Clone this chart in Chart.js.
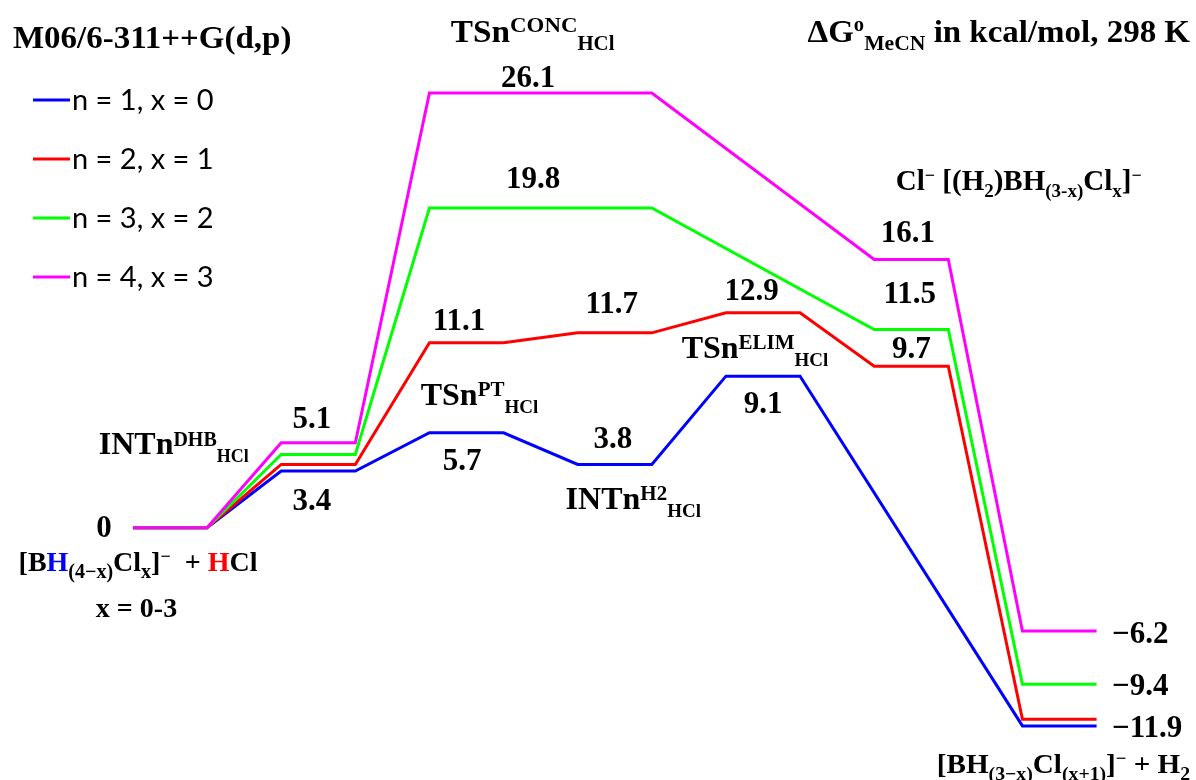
<!DOCTYPE html>
<html><head><meta charset="utf-8">
<script src="https://cdn.jsdelivr.net/npm/chart.js@4/dist/chart.umd.min.js"></script>
<style>html,body{margin:0;padding:0;background:#fff;overflow:hidden}canvas{display:block}</style>
</head><body>
<canvas id="c" width="1196" height="780"></canvas>
<script>
// ---- data (kcal/mol) ----
const states = ['Reactants', 'INTn DHB', 'TSn PT', 'INTn H2', 'TSn ELIM', 'Cl- complex', 'Products'];
const seriesNames = ['n = 1, x = 0', 'n = 2, x = 1', 'n = 3, x = 2', 'n = 4, x = 3'];
const blueValues    = [0, 3.4, 5.7, 3.8, 9.1, null, -11.9];
const redValues     = [0, 3.8, 11.1, 11.7, 12.9, 9.7, -11.5];
const greenValues   = [0, 4.4, 19.2, 19.2, null, 11.9, -9.4];
const magentaValues = [0, 5.1, 26.1, 26.1, null, 16.1, -6.2];
// printed value labels
const blueLabels    = ['0', '3.4', '5.7', '3.8', '9.1', '', '\u221211.9'];
const redLabels     = ['', '', '11.1', '11.7', '12.9', '9.7', ''];
const greenLabels   = ['', '', '19.8', '', '', '11.5', '\u22129.4'];
const magentaLabels = ['', '5.1', '26.1', '', '', '16.1', '\u22126.2'];

// ---- styling / placement ----
const COLORS = ['#0000FF', '#FF0000', '#00FF00', '#FF00FF'];
const SERIF = '"Liberation Serif", "Times New Roman", serif';
const SANS = 'Lato, "Open Sans", sans-serif';
const HALF = 0.25;
// label offsets [dx from state centre, dy from level line, align]
const labelPlace = [
  [[-66, 9], [-6.5, 39], [-4.5, 37], [-2, -16], [0, 37], null, [52.5, 11, 'left']],
  [null, null, [-7.5, -13], [-3, -20], [-11.5, -13], [0, -8], null],
  [null, null, [66.5, -19.5], null, null, [-1.5, -26.5], [52.5, 11, 'left']],
  [null, [-6.5, -15], [61.5, -6], null, null, [-3.5, -17.5], [52.5, 12, 'left']]
];
const allValues = [blueValues, redValues, greenValues, magentaValues];
const allLabels = [blueLabels, redLabels, greenLabels, magentaLabels];

function levelPoints(vals) {
  const pts = [];
  vals.forEach((v, i) => {
    if (v === null) return;
    pts.push({x: i - HALF, y: v}, {x: i + HALF, y: v});
  });
  return pts;
}

function drawRich(ctx, parts, x, y, o) {
  const main = o.size;
  const supS = o.sup || Math.round(main * 0.63);
  const subS = o.sub || Math.round(main * 0.6);
  const rise = o.rise != null ? o.rise : main * 0.28;
  const drop = o.drop != null ? o.drop : main * 0.25;
  const sx = o.sx || 1;
  const segs = parts.map(p => {
    const t = p[0], k = p[1] || 'n', c = p[2] || '#000';
    const sz = k === 'n' ? main : (k === 'sup' ? supS : subS);
    ctx.font = 'bold ' + sz + 'px ' + (o.family || SERIF);
    return {t, k, c, sz, w: ctx.measureText(t).width};
  });
  const total = segs.reduce((a, s) => a + s.w, 0) * sx;
  let cx = o.align === 'center' ? x - total / 2 : (o.align === 'right' ? x - total : x);
  ctx.save();
  ctx.textBaseline = 'alphabetic';
  ctx.textAlign = 'left';
  for (const s of segs) {
    ctx.font = 'bold ' + s.sz + 'px ' + (o.family || SERIF);
    ctx.fillStyle = s.c;
    const yy = s.k === 'sup' ? y - rise : (s.k === 'sub' ? y + drop : y);
    ctx.save();
    ctx.translate(cx, yy);
    ctx.scale(sx, 1);
    ctx.fillText(s.t, 0, 0);
    ctx.restore();
    cx += s.w * sx;
  }
  ctx.restore();
}

const annotPlugin = {
  id: 'annot',
  afterDraw(chart) {
    const ctx = chart.ctx;
    const xs = chart.scales.x, ys = chart.scales.y;
    const cxOf = i => xs.getPixelForValue(i);

    // legend
    ctx.save();
    seriesNames.forEach((name, k) => {
      const y = 100 + k * 59;
      ctx.strokeStyle = COLORS[k];
      ctx.lineWidth = 3;
      ctx.beginPath(); ctx.moveTo(33, y); ctx.lineTo(70, y); ctx.stroke();
      ctx.fillStyle = '#000';
      ctx.font = '29px ' + SANS;
      ctx.textBaseline = 'middle';
      ctx.textAlign = 'left';
      ctx.fillText(name, 72, y + 1);
    });
    ctx.restore();

    // titles
    drawRich(ctx, [['M06/6-311++G(d,p)']], 13, 48, {size: 32, align: 'left', sx: 1.03});
    drawRich(ctx, [['\u0394G'], ['o', 'sup'], ['MeCN', 'sub'], [' in kcal/mol, 298 K']], 1190, 42,
      {size: 32, sup: 20, sub: 21, rise: 11, drop: 8, align: 'right', sx: 1.03});

    // species labels
    const sp = {size: 32, sup: 21, sub: 19, rise: 9, drop: 8, align: 'center'};
    drawRich(ctx, [['INTn'], ['DHB', 'sup'], ['HCl', 'sub']], cxOf(1) - 144.5, 454, {size: 32, sup: 20, sub: 18, rise: 8, drop: 8, align: 'center'});
    drawRich(ctx, [['TSn'], ['PT', 'sup'], ['HCl', 'sub']], cxOf(2) + 13, 405, sp);
    drawRich(ctx, [['TSn'], ['CONC', 'sup'], ['HCl', 'sub']], (cxOf(2) + cxOf(3)) / 2 - 8, 42,
      {size: 32, sup: 22, sub: 20, rise: 10, drop: 8, align: 'center', sx: 1.04});
    drawRich(ctx, [['INTn'], ['H2', 'sup'], ['HCl', 'sub']], cxOf(3) + 18.5, 509, sp);
    drawRich(ctx, [['TSn'], ['ELIM', 'sup'], ['HCl', 'sub']], cxOf(4) - 8, 358, sp);
    drawRich(ctx, [['Cl'], ['\u2212', 'sup'], [' [(H'], ['2', 'sub'], [')BH'], ['(3-x)', 'sub'], ['Cl'], ['x', 'sub'], [']'], ['\u2212', 'sup']],
      cxOf(5) + 107.5, 190, {size: 29, sup: 18, sub: 19, rise: 9, drop: 7, align: 'center'});
    drawRich(ctx, [['[B'], ['H', 'n', '#0000FF'], ['(4\u2212x)', 'sub'], ['Cl'], ['x', 'sub'], [']'], ['\u2212', 'sup'], ['  + '], ['H', 'n', '#FF0000'], ['Cl']],
      cxOf(0) - 32, 571, {size: 28, sup: 18, sub: 20, rise: 9, drop: 7, align: 'center'});
    drawRich(ctx, [['x = 0-3']], cxOf(0) - 33.5, 617, {size: 28, align: 'center'});
    drawRich(ctx, [['[BH'], ['(3\u2212x)', 'sub'], ['Cl'], ['(x+1)', 'sub'], [']'], ['\u2212', 'sup'], [' + H'], ['2', 'sub']],
      cxOf(6) + 4, 773, {size: 28, sup: 18, sub: 19, rise: 9, drop: 7, align: 'center', sx: 1.04});

    // value labels
    allLabels.forEach((labs, k) => {
      labs.forEach((t, i) => {
        const pl = labelPlace[k][i];
        if (!t || !pl) return;
        const v = allValues[k][i];
        const x = cxOf(i) + pl[0];
        const y = ys.getPixelForValue(v) + pl[1];
        drawRich(ctx, [[t]], x, y, {size: 31, align: pl[2] || 'center'});
      });
    });
  }
};

const Y0 = 527.7, PXU = 16.655, X0 = 170, PXS = 148.25;
const W = 1196, H = 780;

new Chart(document.getElementById('c'), {
  type: 'scatter',
  data: {
    datasets: allValues.map((vals, k) => ({
      label: seriesNames[k],
      data: levelPoints(vals),
      showLine: true,
      borderColor: COLORS[k],
      backgroundColor: COLORS[k],
      borderWidth: 3,
      borderJoinStyle: 'miter',
      borderCapStyle: 'butt',
      pointRadius: 0,
      tension: 0,
      order: 4 - k
    }))
  },
  options: {
    responsive: false,
    animation: false,
    devicePixelRatio: 1,
    layout: {padding: 0},
    plugins: {legend: {display: false}, tooltip: {enabled: false}},
    scales: {
      x: {type: 'linear', display: false, min: -X0 / PXS, max: (W - X0) / PXS},
      y: {type: 'linear', display: false, min: -(H - Y0) / PXU, max: Y0 / PXU}
    }
  },
  plugins: [annotPlugin]
});
</script>
</body></html>
